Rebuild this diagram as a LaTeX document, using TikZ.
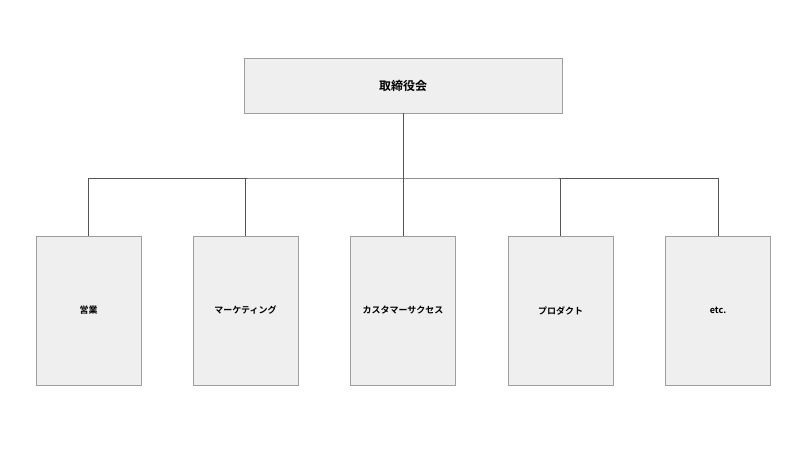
\documentclass[tikz,border=0pt]{standalone}
\usepackage{fontspec}
\setmainfont{Noto Sans CJK JP}[BoldFont={Noto Sans CJK JP Bold}]
\definecolor{boxfill}{HTML}{EFEFEF}
\definecolor{boxline}{HTML}{9E9E9E}
\definecolor{conn}{HTML}{555555}
\begin{document}
\begin{tikzpicture}[x=1pt,y=-1pt,
  box/.style={draw=boxline,fill=boxfill,line width=0.8pt,inner sep=0pt,font=\bfseries\fontsize{9}{11}\selectfont},
  child/.style={box,minimum width=105pt,minimum height=149pt},
  line/.style={draw=conn,line width=1pt}]
\useasboundingbox (0,0) rectangle (800,450);
\node[box,minimum width=318pt,minimum height=55pt,font=\bfseries\fontsize{12}{14}\selectfont] (top) at (403,85.5) {取締役会};
\node[child] (c1) at (88.5,310.5) {営業};
\node[child] (c2) at (245.5,310.5) {マーケティング};
\node[child] (c3) at (403,310.5) {カスタマーサクセス};
\node[child] (c4) at (560.5,310.5) {プロダクト};
\node[child] (c5) at (718,310.5) {etc.};
\coordinate (j) at (403,178);
\draw[line] (top.south) -- (j);
\draw[line] (c1.north) |- (j) -| (c5.north);
\foreach \c in {c2,c3,c4} \draw[line] (\c.north) -- (\c.north |- j);
\end{tikzpicture}
\end{document}
